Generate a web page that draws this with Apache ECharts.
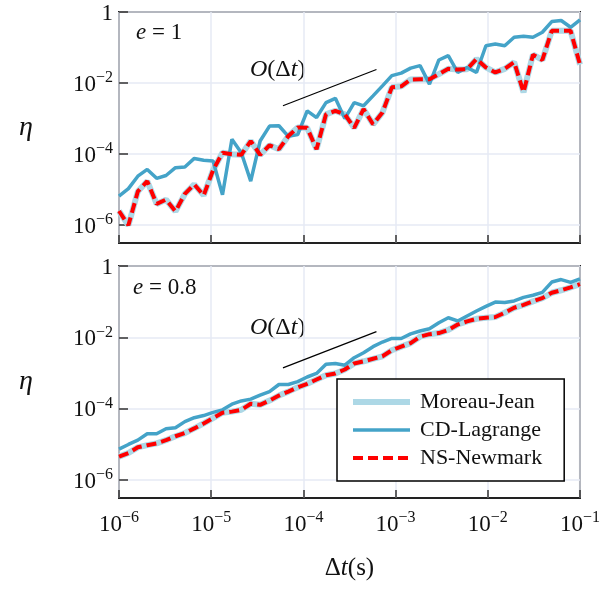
<!DOCTYPE html>
<html>
<head>
<meta charset="utf-8">
<script src="https://cdn.jsdelivr.net/npm/echarts@6/dist/echarts.min.js"></script>
<style>
html,body{margin:0;padding:0;background:#fff;}
#chart{width:603px;height:597px;}
</style>
</head>
<body>
<div id="chart"></div>
<script>
// time steps Δt (s), 50 log-spaced samples from 1e-6 to 1e-1
const dt = [1.000e-6,1.265e-6,1.600e-6,2.024e-6,2.560e-6,3.237e-6,4.095e-6,5.179e-6,6.551e-6,8.286e-6,
  1.048e-5,1.326e-5,1.677e-5,2.121e-5,2.683e-5,3.393e-5,4.292e-5,5.429e-5,6.866e-5,8.685e-5,
  1.099e-4,1.389e-4,1.758e-4,2.223e-4,2.812e-4,3.556e-4,4.498e-4,5.690e-4,7.197e-4,9.103e-4,
  1.151e-3,1.456e-3,1.842e-3,2.330e-3,2.947e-3,3.728e-3,4.715e-3,5.964e-3,7.543e-3,9.541e-3,
  1.207e-2,1.526e-2,1.931e-2,2.442e-2,3.089e-2,3.907e-2,4.942e-2,6.251e-2,7.906e-2,1.000e-1];

// log10(eta)
// e = 1 panel
const cdLagrangeE1 = [-5.18,-4.97,-4.62,-4.43,-4.68,-4.60,-4.38,-4.36,-4.12,-4.17,
  -4.19,-5.14,-3.58,-3.96,-4.76,-3.63,-3.21,-3.20,-3.50,-3.45,
  -2.78,-2.97,-2.55,-2.43,-3.00,-2.55,-2.64,-2.36,-2.08,-1.79,
  -1.72,-1.58,-1.51,-2.03,-1.35,-1.23,-1.70,-1.56,-1.70,-0.95,
  -0.90,-0.95,-0.71,-0.68,-0.71,-0.57,-0.27,-0.24,-0.43,-0.22];
const nsNewmarkE1 = [-5.60,-6.00,-5.05,-4.76,-5.40,-5.28,-5.61,-5.12,-4.85,-5.16,
  -4.45,-3.96,-4.00,-4.02,-3.63,-4.02,-3.75,-3.86,-3.49,-3.25,
  -3.26,-3.86,-2.88,-2.78,-2.88,-3.26,-2.73,-3.16,-2.83,-2.12,
  -2.09,-1.90,-1.89,-1.89,-1.75,-1.60,-1.62,-1.61,-1.32,-1.56,
  -1.70,-1.60,-1.41,-2.26,-1.20,-1.35,-0.53,-0.53,-0.53,-1.48];
const moreauJeanE1 = nsNewmarkE1.slice();

// e = 0.8 panel
const cdLagrangeE08 = [-5.13,-5.00,-4.88,-4.70,-4.70,-4.56,-4.53,-4.36,-4.25,-4.19,
  -4.10,-4.03,-3.87,-3.78,-3.73,-3.62,-3.52,-3.32,-3.32,-3.24,
  -3.11,-3.01,-2.75,-2.73,-2.78,-2.57,-2.43,-2.26,-2.13,-2.03,
  -2.03,-1.90,-1.82,-1.76,-1.59,-1.45,-1.54,-1.40,-1.26,-1.13,
  -1.01,-1.02,-0.98,-0.88,-0.82,-0.74,-0.45,-0.38,-0.46,-0.36];
const nsNewmarkE08 = [-5.34,-5.24,-5.08,-5.02,-4.97,-4.88,-4.77,-4.68,-4.55,-4.41,
  -4.26,-4.11,-4.08,-4.03,-3.86,-3.89,-3.77,-3.63,-3.52,-3.40,
  -3.30,-3.18,-3.06,-3.01,-2.90,-2.73,-2.67,-2.60,-2.53,-2.36,
  -2.26,-2.16,-1.98,-1.91,-1.88,-1.79,-1.64,-1.55,-1.48,-1.45,
  -1.43,-1.31,-1.17,-1.09,-0.99,-0.90,-0.75,-0.68,-0.60,-0.51];
const moreauJeanE08 = nsNewmarkE08.slice();

// O(Δt) reference segments
const slopeX = [6.0e-5, 6.2e-4];
const slopeYE1 = [2.3e-3, 2.4e-2];
const slopeYE08 = [1.4e-3, 1.45e-2];

// tick values
const xTicks = [1e-6,1e-5,1e-4,1e-3,1e-2,1e-1];
const yTicks = [1e-6,1e-4,1e-2,1];
const seriesNames = ['Moreau-Jean','CD-Lagrange','NS-Newmark'];

const FONT = 'Liberation Serif';
const pairs = (xs, ls) => xs.map((x, i) => [x, Math.pow(10, ls[i])]);
const segs = (xs, ys) => xs.map((x, i) => [x, ys[i]]);
const supLabel = v => {
  const e = Math.round(Math.log10(v));
  if (e === 0) return '{b|1}';
  return '{b|10}{s|' + (e < 0 ? '\u2212' + (-e) : e) + '}';
};
const rich = {
  b: {fontFamily: FONT, fontSize: 23, color: '#111', lineHeight: 26, verticalAlign: 'bottom'},
  s: {fontFamily: FONT, fontSize: 16, color: '#111', lineHeight: 16, verticalAlign: 'top', padding: [0,0,10,0]}
};

const chart = echarts.init(document.getElementById('chart'), null, {renderer: 'canvas'});

function xAxisCfg(idx, showLabel) {
  return {
    type: 'log', gridIndex: idx, logBase: 10, min: 1e-6, max: 1e-1,
    axisLine: {show: false},
    axisTick: {show: true, inside: true, length: 8, customValues: xTicks, lineStyle: {color: '#333', width: 1.5}},
    splitLine: {show: true, lineStyle: {color: '#e6eaf4', width: 1.5}},
    axisLabel: {show: showLabel, customValues: xTicks, margin: 12, formatter: supLabel, rich: rich},
    name: showLabel ? '{d|\u0394}{t|t}{d|(s)}' : '',
    nameLocation: 'middle', nameGap: 58,
    nameTextStyle: {rich: {
      d: {fontFamily: FONT, fontSize: 25, color: '#111'},
      t: {fontFamily: FONT, fontSize: 25, fontStyle: 'italic', color: '#111'}
    }}
  };
}
function yAxisCfg(idx) {
  return {
    type: 'log', gridIndex: idx, logBase: 10, min: Math.pow(10, -6.5), max: 1,
    axisLine: {show: false},
    axisTick: {show: true, inside: true, length: 9, customValues: yTicks, lineStyle: {color: '#333', width: 1.5}},
    splitLine: {show: true, lineStyle: {color: '#e6eaf4', width: 1.5}},
    axisLabel: {show: true, customValues: yTicks, margin: 6, formatter: supLabel, rich: rich},
    name: '\u03b7', nameLocation: 'middle', nameRotate: 0, nameGap: 86,
    nameTextStyle: {fontFamily: FONT, fontSize: 28, fontStyle: 'italic', color: '#111', padding: [0,0,8,0]}
  };
}
function dataSeries(idx, mj, cd, ns) {
  return [
    {name: seriesNames[0], type: 'line', xAxisIndex: idx, yAxisIndex: idx, symbol: 'none',
     data: pairs(dt, mj), lineStyle: {color: '#add8e6', width: 6}, itemStyle: {color: '#add8e6'}, z: 2},
    {name: seriesNames[1], type: 'line', xAxisIndex: idx, yAxisIndex: idx, symbol: 'none',
     data: pairs(dt, cd), lineStyle: {color: '#44a3c8', width: 3.5}, itemStyle: {color: '#44a3c8'}, z: 3},
    {name: seriesNames[2], type: 'line', xAxisIndex: idx, yAxisIndex: idx, symbol: 'none',
     data: pairs(dt, ns), lineStyle: {color: '#ff0000', width: 4, type: [10, 5]}, itemStyle: {color: '#ff0000'}, z: 4}
  ];
}
function slopeSeries(idx, ys) {
  return {type: 'line', xAxisIndex: idx, yAxisIndex: idx, symbol: 'none', silent: true,
    data: segs(slopeX, ys), lineStyle: {color: '#000', width: 1.2}, z: 5};
}

const option = {
  animation: false,
  backgroundColor: '#fff',
  grid: [
    {left: 119, top: 12, width: 461, height: 231, show: true, borderColor: '#222', borderWidth: 2, backgroundColor: '#fff'},
    {left: 119, top: 266, width: 461, height: 232, show: true, borderColor: '#222', borderWidth: 2, backgroundColor: '#fff'}
  ],
  xAxis: [xAxisCfg(0, false), xAxisCfg(1, true)],
  yAxis: [yAxisCfg(0), yAxisCfg(1)],
  legend: {
    data: seriesNames, orient: 'vertical', left: 337, top: 379,
    itemWidth: 57, itemHeight: 16, itemGap: 6,
    padding: [12, 22, 12, 13],
    borderColor: '#000', borderWidth: 1.5, borderRadius: 0, backgroundColor: '#fff',
    lineStyle: {width: 'inherit', type: 'inherit'},
    itemStyle: {color: 'rgba(0,0,0,0)', borderColor: 'rgba(0,0,0,0)', borderWidth: 0, opacity: 0},
    textStyle: {fontFamily: FONT, fontSize: 22, color: '#111', lineHeight: 22, padding: [0,0,0,5]},
    selectedMode: false
  },
  series: [
    ...dataSeries(0, moreauJeanE1, cdLagrangeE1, nsNewmarkE1),
    slopeSeries(0, slopeYE1),
    ...dataSeries(1, moreauJeanE08, cdLagrangeE08, nsNewmarkE08),
    slopeSeries(1, slopeYE08)
  ],
  graphic: [
    {type: 'text', left: 136, top: 21, style: {text: '{i|e} = 1', rich: {i: {fontStyle: 'italic', fontFamily: FONT, fontSize: 23}}, fontFamily: FONT, fontSize: 23, fill: '#111'}},
    {type: 'text', left: 133, top: 276, style: {text: '{i|e} = 0.8', rich: {i: {fontStyle: 'italic', fontFamily: FONT, fontSize: 23}}, fontFamily: FONT, fontSize: 23, fill: '#111'}},
    {type: 'text', left: 250, top: 58, style: {text: '{i|O}(\u0394{i|t})', rich: {i: {fontStyle: 'italic', fontFamily: FONT, fontSize: 24}}, fontFamily: FONT, fontSize: 24, fill: '#111'}},
    {type: 'text', left: 250, top: 316, style: {text: '{i|O}(\u0394{i|t})', rich: {i: {fontStyle: 'italic', fontFamily: FONT, fontSize: 24}}, fontFamily: FONT, fontSize: 24, fill: '#111'}}
  ]
};
chart.setOption(option);
</script>
</body>
</html>
